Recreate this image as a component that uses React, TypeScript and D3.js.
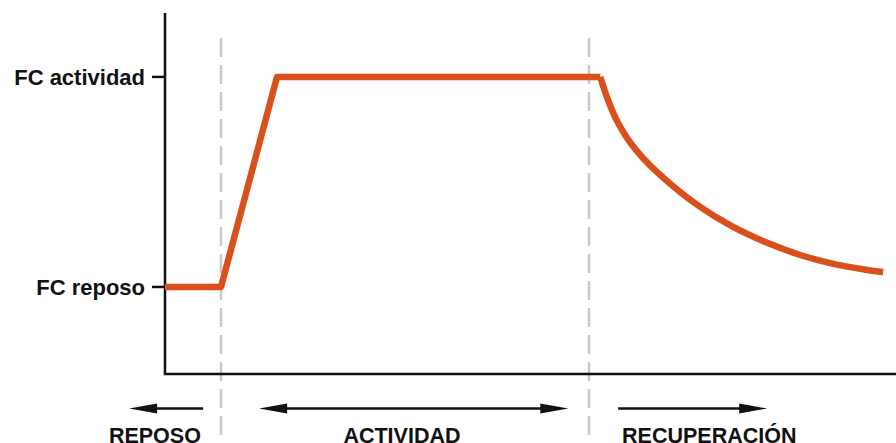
import React, { useEffect } from "react";
import * as d3 from "d3";

// Time (arbitrary minutes) vs heart rate (bpm)
const baseLine: [number, number][] = [
  [0, 60],
  [1, 60],
  [2, 150],
  [7.77, 150],
];

const recoveryCurve: [number, number][] = [
  [7.77, 150],
  [7.875, 142.3],
  [8.018, 133.7],
  [8.214, 125.1],
  [8.482, 116.6],
  [8.839, 108.0],
  [9.196, 100.7],
  [9.554, 94.3],
  [10.143, 85.7],
  [10.75, 78.9],
  [11.339, 73.7],
  [11.929, 69.9],
  [12.536, 67.3],
  [12.821, 66.4],
];

const yTicks = [
  { value: 150, label: "FC actividad" },
  { value: 60, label: "FC reposo" },
];

const phaseBoundaries = [1, 7.57];

const phaseArrows = [
  { from: 0.68, to: -0.64, both: false },
  { from: 1.68, to: 7.2, both: true },
  { from: 8.09, to: 10.75, both: false },
];

const phaseLabels = [
  { label: "REPOSO", x: -0.18, anchor: "middle" },
  { label: "ACTIVIDAD", x: 4.23, anchor: "middle" },
  { label: "RECUPERACIÓN", x: 8.16, anchor: "start" },
];

const W = 896;
const H = 443;
const ORANGE = "#d9501c";
const INK = "#111111";
const FONT = "'Liberation Sans', Arial, Helvetica, sans-serif";

export default function App() {
  useEffect(() => {
    document.body.style.margin = "0";
  }, []);

  const x = d3.scaleLinear().domain([0, 13.05]).range([165, 896]);
  const y = d3.scaleLinear().domain([22.7, 177.4]).range([374, 13]);

  const lin = d3
    .line<[number, number]>()
    .x((d) => x(d[0]))
    .y((d) => y(d[1]));
  const curve = d3
    .line<[number, number]>()
    .x((d) => x(d[0]))
    .y((d) => y(d[1]))
    .curve(d3.curveMonotoneX);

  const arrowY = 408.5;
  const headLen = 28;
  const headHalf = 5;
  const head = (tip: number, dir: number) =>
    `M${tip},${arrowY} L${tip - dir * headLen},${arrowY - headHalf} L${tip - dir * headLen},${arrowY + headHalf} Z`;

  return (
    <svg
      width={W}
      height={H}
      style={{ position: "absolute", left: 0, top: 0, background: "#fff" }}
      fontFamily={FONT}
    >
      {/* phase boundaries */}
      {phaseBoundaries.map((b, i) => (
        <line
          key={i}
          x1={x(b)}
          x2={x(b)}
          y1={38}
          y2={H}
          stroke="#c9c9c9"
          strokeWidth={2.5}
          strokeDasharray="19 8"
        />
      ))}

      {/* axes */}
      <line x1={x(0)} x2={x(0)} y1={y(177.4)} y2={y(22.7)} stroke={INK} strokeWidth={2.5} />
      <line x1={x(0) - 1.25} x2={W} y1={y(22.7)} y2={y(22.7)} stroke={INK} strokeWidth={2.5} />

      {yTicks.map((t) => (
        <g key={t.label}>
          <line x1={x(0) - 13} x2={x(0)} y1={y(t.value)} y2={y(t.value)} stroke={INK} strokeWidth={2.5} />
          <text
            x={x(0) - 20}
            y={y(t.value) + 8}
            textAnchor="end"
            fontSize={22}
            fontWeight="bold"
            fill={INK}
          >
            {t.label}
          </text>
        </g>
      ))}

      {/* heart rate line */}
      <path d={lin(baseLine) || ""} fill="none" stroke={ORANGE} strokeWidth={6.5} strokeLinejoin="round" />
      <path d={curve(recoveryCurve) || ""} fill="none" stroke={ORANGE} strokeWidth={6.5} strokeLinejoin="round" />

      {/* phase arrows */}
      {phaseArrows.map((a, i) => {
        const x1 = x(a.from);
        const x2 = x(a.to);
        const dir = x2 > x1 ? 1 : -1;
        return (
          <g key={i}>
            <line
              x1={a.both ? x1 + dir * headLen * 0.8 : x1}
              x2={x2 - dir * headLen * 0.8}
              y1={arrowY}
              y2={arrowY}
              stroke={INK}
              strokeWidth={2.5}
            />
            <path d={head(x2, dir)} fill={INK} />
            {a.both && <path d={head(x1, -dir)} fill={INK} />}
          </g>
        );
      })}

      {phaseLabels.map((p) => (
        <text
          key={p.label}
          x={x(p.x)}
          y={442.5}
          textAnchor={p.anchor as any}
          fontSize={21.5}
          fontWeight="bold"
          fill={INK}
        >
          {p.label}
        </text>
      ))}
    </svg>
  );
}
